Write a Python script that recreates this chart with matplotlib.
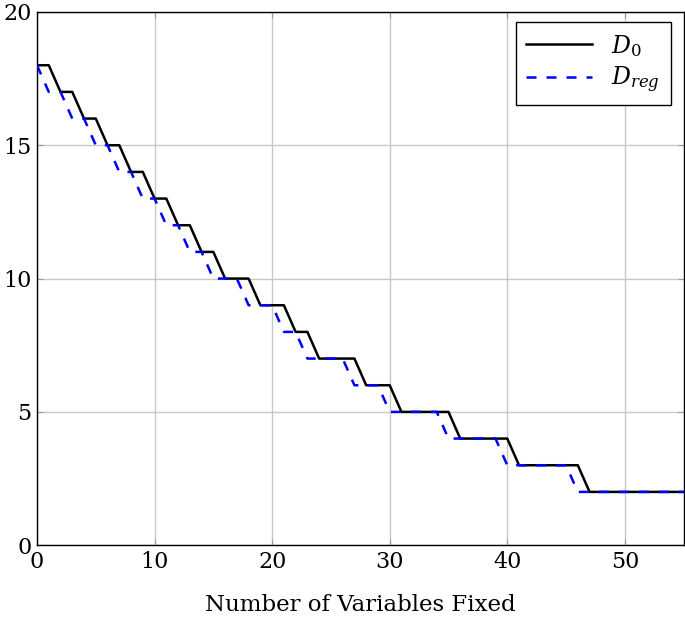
import matplotlib.pyplot as plt

# -----------------------------
# Data
# -----------------------------
x_vals = list(range(0, 56))

d0 = [18, 18, 17, 17, 16, 16, 15, 15, 14, 14,
      13, 13, 12, 12, 11, 11, 10, 10, 10, 9,
      9, 9, 8, 8, 7, 7, 7, 7, 6, 6,
      6, 5, 5, 5, 5, 5, 4, 4, 4, 4,
      4, 3, 3, 3, 3, 3, 3, 2, 2, 2,
      2, 2, 2, 2, 2, 2]

d_reg = [18, 17, 17, 16, 16, 15, 15, 14, 14, 13,
         13, 12, 12, 11, 11, 10, 10, 10, 9, 9,
         9, 8, 8, 7, 7, 7, 7, 6, 6, 6,
         5, 5, 5, 5, 5, 4, 4, 4, 4, 4,
         3, 3, 3, 3, 3, 3, 2, 2, 2, 2,
         2, 2, 2, 2, 2, 2]

x_ticks = [0, 10, 20, 30, 40, 50]
y_ticks = [0, 5, 10, 15, 20]

plt.rcParams["font.family"] = ["DejaVu Serif"]
plt.rcParams["mathtext.fontset"] = "dejavuserif"

fig = plt.figure(figsize=(6.85, 6.26), dpi=100)
ax = fig.add_axes([0.054, 0.129, 0.944, 0.852])

ax.plot(x_vals, d0, color="black", lw=1.8, label=r"$D_0$", zorder=3)
ax.plot(x_vals, d_reg, color="blue", lw=1.8, dashes=(4.0, 4.0),
        label=r"$D_{reg}$", zorder=4)

ax.set_xlim(0, 55)
ax.set_ylim(0, 20)
ax.set_xticks(x_ticks)
ax.set_yticks(y_ticks)
ax.grid(True, color="#c8c8c8", lw=1.0, zorder=0)
ax.tick_params(direction="in", length=4, color="#999999", labelsize=16,
               top=True, right=True, pad=4)
for s in ax.spines.values():
    s.set_linewidth(1.0)
    s.set_color("black")

ax.set_xlabel("Number of Variables Fixed", fontsize=16.5, labelpad=15)

leg = ax.legend(loc="upper right", bbox_to_anchor=(0.98, 0.981),
                borderaxespad=0, fontsize=17, handlelength=2.8,
                fancybox=False, framealpha=1, edgecolor="black",
                borderpad=0.45, labelspacing=0.25)
leg.get_frame().set_linewidth(1.0)

fig.savefig("out.png", dpi=100)
